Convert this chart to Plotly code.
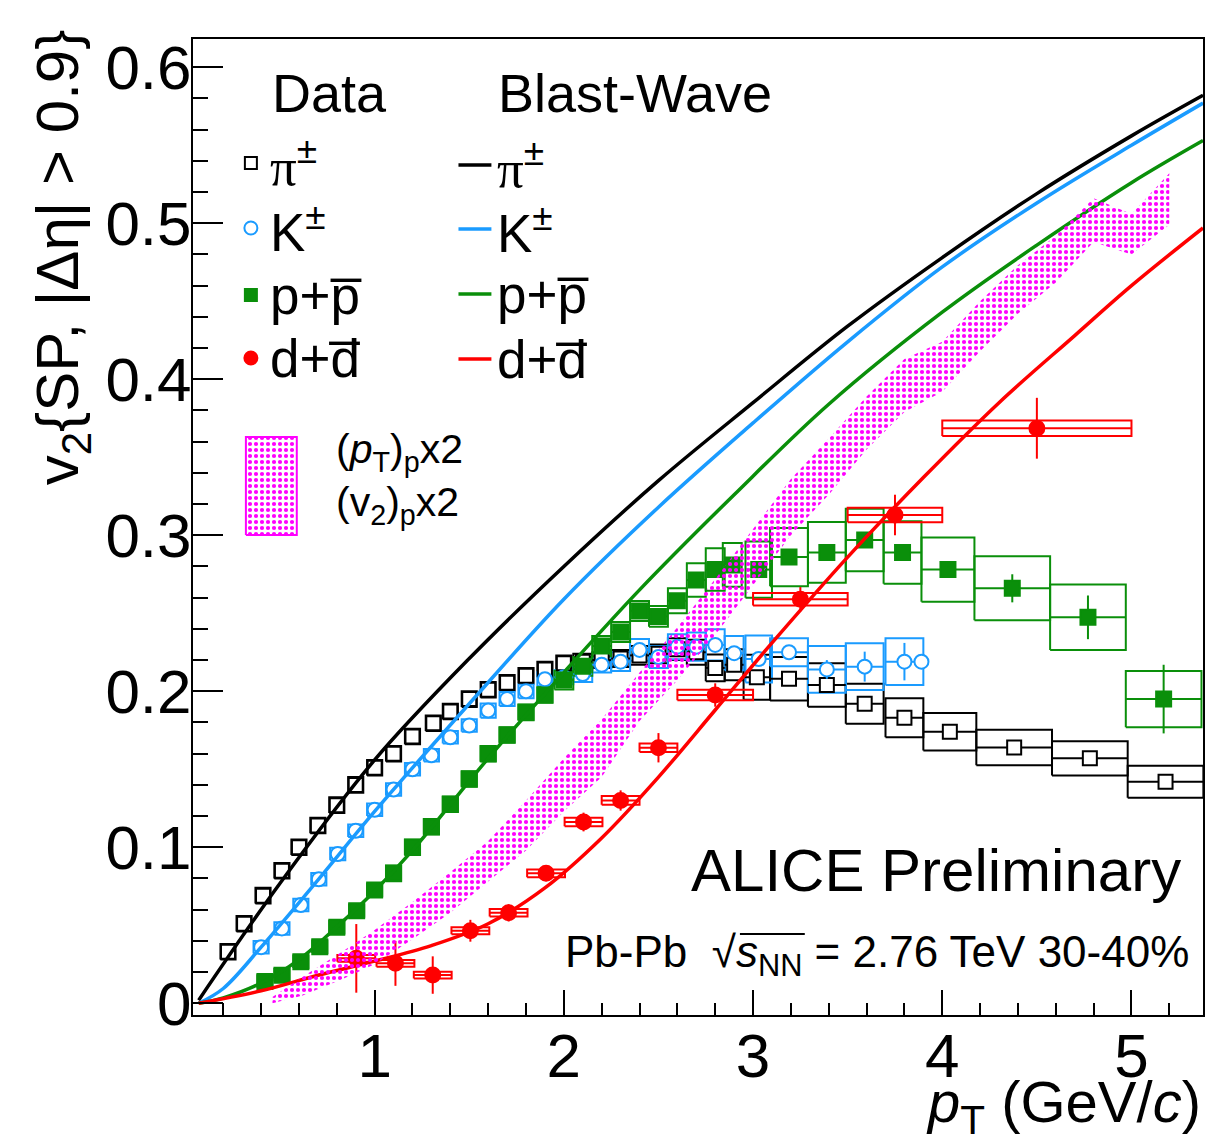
import plotly.graph_objects as go

FONT = "Liberation Sans, Arial, Helvetica, sans-serif"

# ---------------- charged pions ----------------
pi_pt = [0.225, 0.31, 0.41, 0.51, 0.60, 0.70, 0.80, 0.90, 1.00, 1.10, 1.20,
         1.31, 1.40, 1.50, 1.60, 1.70, 1.80, 1.90, 2.00,
         2.10, 2.20, 2.30, 2.40, 2.50, 2.60, 2.70, 2.80, 2.90,
         3.02, 3.19, 3.39, 3.59, 3.80, 4.04, 4.38, 4.78, 5.18]
pi_v2 = [0.033, 0.051, 0.069, 0.085, 0.100, 0.114, 0.127, 0.140, 0.151, 0.160, 0.171,
         0.1795, 0.187, 0.195, 0.201, 0.2055, 0.210, 0.214, 0.218,
         0.219, 0.220, 0.221, 0.223, 0.224, 0.227, 0.225, 0.215, 0.217,
         0.209, 0.208, 0.204, 0.192, 0.183, 0.174, 0.164, 0.157, 0.142]
pi_stat = [0.0005, 0.0005, 0.0005, 0.0005, 0.0005, 0.0005, 0.0005, 0.0005, 0.0005, 0.0005, 0.0005,
           0.0005, 0.0005, 0.0005, 0.0005, 0.0005, 0.0005, 0.0005, 0.0005,
           0.0006, 0.0006, 0.0006, 0.0006, 0.0007, 0.0007, 0.0008, 0.0008, 0.0009,
           0.001, 0.001, 0.0015, 0.002, 0.002, 0.002, 0.002, 0.003, 0.004]
pi_sys = [0.005, 0.005, 0.005, 0.005, 0.005, 0.005, 0.005, 0.005, 0.005, 0.005, 0.005,
          0.005, 0.005, 0.005, 0.005, 0.005, 0.005, 0.005, 0.005,
          0.005, 0.005, 0.0055, 0.006, 0.006, 0.007, 0.008, 0.0085, 0.010,
          0.0144, 0.0139, 0.0139, 0.0128, 0.0125, 0.012, 0.0114, 0.011, 0.0103]
pi_bin = [0.04, 0.04, 0.04, 0.04, 0.04, 0.04, 0.04, 0.04, 0.04, 0.04, 0.04,
          0.04, 0.04, 0.04, 0.04, 0.04, 0.04, 0.04, 0.04,
          0.05, 0.05, 0.05, 0.05, 0.05, 0.05, 0.05, 0.05, 0.05,
          0.07, 0.10, 0.10, 0.10, 0.10, 0.14, 0.20, 0.20, 0.20]

# ---------------- charged kaons ----------------
k_pt = [0.40, 0.51, 0.61, 0.705, 0.805, 0.90, 1.00, 1.10, 1.20, 1.30, 1.40, 1.50,
        1.60, 1.70, 1.80, 1.90, 2.00,
        2.10, 2.20, 2.30, 2.40, 2.50, 2.60, 2.70, 2.80, 2.90,
        3.03, 3.19, 3.39, 3.59, 3.80, 3.89]
k_v2 = [0.036, 0.048, 0.063, 0.0795, 0.0957, 0.1106, 0.124, 0.137, 0.150, 0.159, 0.1705, 0.178,
        0.1876, 0.195, 0.200, 0.2077, 0.209,
        0.211, 0.217, 0.219, 0.2265, 0.222, 0.2286, 0.2286, 0.2297, 0.2244,
        0.2207, 0.225, 0.214, 0.2158, 0.219, 0.219]
k_stat = [0.0008, 0.0008, 0.0008, 0.0008, 0.0008, 0.0008, 0.0008, 0.0008, 0.0008, 0.0008, 0.0008, 0.0008,
          0.0008, 0.0008, 0.0008, 0.0008, 0.0008,
          0.0008, 0.0008, 0.0008, 0.0008, 0.0008, 0.0015, 0.0015, 0.0015, 0.0015,
          0.002, 0.004, 0.006, 0.0096, 0.012, 0.0]
k_sys = [0.004, 0.004, 0.004, 0.004, 0.004, 0.004, 0.004, 0.004, 0.004, 0.004, 0.004, 0.004,
         0.0045, 0.0045, 0.0045, 0.0045, 0.0045,
         0.005, 0.005, 0.006, 0.007, 0.007, 0.008, 0.009, 0.010, 0.011,
         0.015, 0.009, 0.015, 0.015, 0.015, 0.0]
k_bin = [0.04, 0.04, 0.04, 0.04, 0.04, 0.04, 0.04, 0.04, 0.04, 0.04, 0.04, 0.04,
         0.04, 0.04, 0.04, 0.04, 0.05,
         0.05, 0.05, 0.05, 0.05, 0.05, 0.05, 0.05, 0.05, 0.05,
         0.07, 0.10, 0.10, 0.10, 0.10, 0.0]

# ---------------- protons ----------------
p_pt = [0.42, 0.51, 0.61, 0.71, 0.80, 0.905, 1.00,
        1.10, 1.20, 1.30, 1.40, 1.50, 1.60, 1.70, 1.80, 1.90,
        2.00, 2.10, 2.20, 2.30, 2.40, 2.50, 2.60, 2.70, 2.80, 2.89,
        3.03, 3.19, 3.39, 3.59, 3.79, 4.03, 4.37, 4.77, 5.17]
p_v2 = [0.0139, 0.018, 0.0267, 0.0363, 0.0487, 0.0594, 0.0726,
        0.0833, 0.100, 0.1132, 0.1276, 0.1438, 0.160, 0.172, 0.1865, 0.1976,
        0.2072, 0.216, 0.229, 0.238, 0.2515, 0.248, 0.258, 0.2713, 0.278, 0.281,
        0.278, 0.286, 0.289, 0.297, 0.289, 0.278, 0.266, 0.2474, 0.195]
p_stat = [0.001, 0.001, 0.001, 0.001, 0.001, 0.001, 0.001,
          0.001, 0.001, 0.001, 0.001, 0.001, 0.001, 0.001, 0.001, 0.001,
          0.0012, 0.0012, 0.0012, 0.0012, 0.0013, 0.0013, 0.0014, 0.0014, 0.0015, 0.0015,
          0.0015, 0.002, 0.003, 0.003, 0.004, 0.004, 0.009, 0.014, 0.022]
p_sys = [0.004, 0.004, 0.004, 0.004, 0.004, 0.004, 0.004,
         0.005, 0.005, 0.005, 0.005, 0.005, 0.005, 0.005, 0.005, 0.005,
         0.006, 0.006, 0.0065, 0.0064, 0.0064, 0.0066, 0.008, 0.0107, 0.0136, 0.014,
         0.018, 0.0187, 0.0195, 0.020, 0.020, 0.0206, 0.0205, 0.021, 0.018]
p_bin = [0.04, 0.04, 0.04, 0.04, 0.04, 0.04, 0.04,
         0.04, 0.04, 0.04, 0.04, 0.04, 0.04, 0.04, 0.04, 0.04,
         0.05, 0.05, 0.05, 0.05, 0.05, 0.05, 0.05, 0.05, 0.05, 0.05,
         0.07, 0.10, 0.10, 0.10, 0.10, 0.14, 0.20, 0.20, 0.20]

# ---------------- deuterons ----------------
d_pt = [0.903, 1.11, 1.307, 1.506, 1.708, 1.906, 2.104, 2.30, 2.50, 2.80, 3.25, 3.75, 4.50]
d_v2 = [0.0288, 0.0256, 0.0181, 0.0465, 0.058, 0.0833, 0.1162, 0.130, 0.1638, 0.1976, 0.259, 0.313, 0.3686]
d_stat = [0.022, 0.0144, 0.012, 0.007, 0.0055, 0.005, 0.006, 0.0065, 0.0094, 0.0075, 0.0078, 0.013, 0.0195]
d_sys = [0.0022, 0.0022, 0.0022, 0.0023, 0.0024, 0.0025, 0.0027, 0.0028, 0.0028, 0.0034, 0.004, 0.0046, 0.005]
d_bin = [0.10, 0.10, 0.10, 0.10, 0.10, 0.10, 0.10, 0.10, 0.10, 0.20, 0.25, 0.25, 0.50]

# ---------------- Blast-Wave predictions ----------------
bw_pi_pt = [0.07, 0.5, 1.0, 1.5, 2.0, 2.5, 3.0, 3.5, 4.0, 4.5, 5.0, 5.378]
bw_pi_v2 = [0.002, 0.077, 0.156, 0.221, 0.280, 0.335, 0.385, 0.434, 0.478, 0.519, 0.556, 0.582]
bw_k_pt = [0.07, 0.2, 0.4, 0.7, 1.0, 1.5, 2.0, 2.5, 3.0, 3.5, 4.0, 4.5, 5.0, 5.378]
bw_k_v2 = [0.0, 0.0095, 0.036, 0.079, 0.123, 0.192, 0.259, 0.318, 0.372, 0.424, 0.472, 0.513, 0.550, 0.577]
bw_p_pt = [0.07, 0.2, 0.4, 0.6, 0.8, 1.0, 1.2, 1.6, 2.0, 2.4, 2.9, 3.4, 4.0, 4.5, 5.0, 5.378]
bw_p_v2 = [0.0, 0.0035, 0.013, 0.028, 0.049, 0.072, 0.098, 0.157, 0.212, 0.265, 0.326, 0.384, 0.443, 0.486, 0.526, 0.553]
bw_d_pt = [0.07, 0.4, 0.7, 1.0, 1.3, 1.6, 1.9, 2.2, 2.5, 2.8, 3.1, 3.5, 3.9, 4.3, 4.7, 5.0, 5.378]
bw_d_v2 = [0.0, 0.008, 0.018, 0.027, 0.037, 0.051, 0.074, 0.106, 0.145, 0.188, 0.231, 0.286, 0.337, 0.385, 0.428, 0.460, 0.497]

# ---------------- scaled proton band: (pT)p x2, (v2)p x2 ----------------
band_pt = [0.46, 0.62, 0.84, 1.00, 1.20, 1.40, 1.60, 1.80, 2.00, 2.20, 2.40, 2.60, 2.80,
           3.00, 3.20, 3.40, 3.60, 3.80, 4.00, 4.20, 4.40, 4.60, 4.80, 5.00, 5.20]
band_lo = [0.000, 0.005, 0.016, 0.025, 0.041, 0.058, 0.078, 0.098, 0.123, 0.145, 0.181, 0.207, 0.236,
           0.268, 0.300, 0.326, 0.355, 0.379, 0.392, 0.418, 0.442, 0.462, 0.488, 0.480, 0.499]
band_hi = [0.004, 0.017, 0.034, 0.047, 0.065, 0.084, 0.104, 0.130, 0.157, 0.182, 0.212, 0.241, 0.272,
           0.304, 0.336, 0.362, 0.389, 0.413, 0.424, 0.450, 0.473, 0.492, 0.516, 0.506, 0.532]

BLACK = "#000000"
BLUE = "#1a9bff"
GREEN = "#0a8f0a"
RED = "#ff0000"
MAGENTA = "#ff00ff"

BAND_PATTERN = dict(shape=".", fgcolor=MAGENTA, bgcolor="rgba(255,255,255,0)",
                    fgopacity=1, size=6, solidity=0.38)

species = [
    dict(pt=pi_pt, v2=pi_v2, stat=pi_stat, sys=pi_sys, hw=pi_bin, color=BLACK, symbol="square", fill="white", size=14),
    dict(pt=k_pt, v2=k_v2, stat=k_stat, sys=k_sys, hw=k_bin, color=BLUE, symbol="circle", fill="white", size=14),
    dict(pt=p_pt, v2=p_v2, stat=p_stat, sys=p_sys, hw=p_bin, color=GREEN, symbol="square", fill=GREEN, size=15),
    dict(pt=d_pt, v2=d_v2, stat=d_stat, sys=d_sys, hw=d_bin, color=RED, symbol="circle", fill=RED, size=15),
]


def sys_boxes(pt, v2, hw, sy):
    """Open rectangles for the systematic uncertainties."""
    bx, by = [], []
    for x, y, w, s in zip(pt, v2, hw, sy):
        if w <= 0 or s <= 0:
            continue
        bx += [x - w, x + w, x + w, x - w, x - w, None]
        by += [y - s, y - s, y + s, y + s, y - s, None]
    return bx, by


fig = go.Figure()

# systematic boxes
for s in species:
    bx, by = sys_boxes(s["pt"], s["v2"], s["hw"], s["sys"])
    fig.add_trace(go.Scatter(x=bx, y=by, mode="lines",
                             line=dict(color=s["color"], width=2),
                             hoverinfo="skip"))

# data points with bin-width and statistical bars
for s in species:
    fig.add_trace(go.Scatter(
        x=s["pt"], y=s["v2"], mode="markers",
        marker=dict(symbol=s["symbol"], size=s["size"], color=s["fill"],
                    line=dict(color=s["color"], width=2)),
        error_x=dict(type="data", array=s["hw"], symmetric=True, width=0,
                     thickness=2, color=s["color"]),
        error_y=dict(type="data", array=s["stat"], symmetric=True, width=0,
                     thickness=2, color=s["color"]),
    ))

# Blast-Wave curves
for xs, ys, col in [(bw_pi_pt, bw_pi_v2, BLACK), (bw_k_pt, bw_k_v2, BLUE),
                    (bw_p_pt, bw_p_v2, GREEN), (bw_d_pt, bw_d_v2, RED)]:
    fig.add_trace(go.Scatter(x=xs, y=ys, mode="lines",
                             line=dict(color=col, width=3.5, shape="spline", smoothing=1.0),
                             hoverinfo="skip"))

# scaled proton band
fig.add_trace(go.Scatter(
    x=band_pt + band_pt[::-1], y=band_hi + band_lo[::-1],
    mode="lines", fill="toself", line=dict(width=0, color="rgba(0,0,0,0)"),
    fillcolor="rgba(255,255,255,0)", fillpattern=BAND_PATTERN,
    hoverinfo="skip"))

# ---------------- legend keys (overlay axes in plot-area fractions) ----------------
def px2fx(px):
    return (px - 193) / 1012.0


def py2fy(py):
    return (1015 - py) / 976.0


data_rows = [163, 228, 295, 358]
bw_rows = [165, 229, 294, 359]
data_keys = [(BLACK, "square", "white", 12), (BLUE, "circle", "white", 13),
             (GREEN, "square", GREEN, 12), (RED, "circle", RED, 13)]
for (col, sym, fill, sz), row in zip(data_keys, data_rows):
    fig.add_trace(go.Scatter(x=[px2fx(251)], y=[py2fy(row)], mode="markers",
                             xaxis="x2", yaxis="y2",
                             marker=dict(symbol=sym, size=sz, color=fill,
                                         line=dict(color=col, width=2)),
                             hoverinfo="skip"))
for col, row in zip([BLACK, BLUE, GREEN, RED], bw_rows):
    fig.add_trace(go.Scatter(x=[px2fx(459), px2fx(492)], y=[py2fy(row)] * 2, mode="lines",
                             xaxis="x2", yaxis="y2",
                             line=dict(color=col, width=3.5), hoverinfo="skip"))

# band key
kx0, kx1, ky0, ky1 = px2fx(246), px2fx(297), py2fy(535), py2fy(437)
fig.add_trace(go.Scatter(
    x=[kx0, kx1, kx1, kx0, kx0], y=[ky0, ky0, ky1, ky1, ky0],
    mode="lines", fill="toself", xaxis="x2", yaxis="y2",
    line=dict(color=MAGENTA, width=2),
    fillcolor="rgba(255,255,255,0)", fillpattern=BAND_PATTERN,
    hoverinfo="skip"))

PI = "<span style='font-family:Liberation Serif'>π</span>"
labels_data = [PI + "<sup>±</sup>", "K<sup>±</sup>", "p+p\u0305", "d+d\u0305"]

ann = []


def text(x, y, s, size, xanchor="left", yanchor="middle", **kw):
    ann.append(dict(x=x, y=y, xref="paper", yref="paper", text=s, showarrow=False,
                    xanchor=xanchor, yanchor=yanchor,
                    font=dict(family=FONT, size=size, color="black"), **kw))


text(px2fx(270), py2fy(93), "Data", 54)
text(px2fx(497), py2fy(93), "Blast-Wave", 54)
for lab, row in zip(labels_data, data_rows):
    text(px2fx(268), py2fy(row), lab, 53)
for lab, row in zip(labels_data, bw_rows):
    text(px2fx(496), py2fy(row), lab, 53)

text(px2fx(334), py2fy(452), "(<i>p</i><sub>T</sub>)<sub>p</sub>x2", 41)
text(px2fx(334), py2fy(505), "(v<sub>2</sub>)<sub>p</sub>x2", 41)

text(px2fx(1185), py2fy(870), "ALICE Preliminary", 60, xanchor="right")
text(px2fx(1193), py2fy(955), "Pb-Pb  √<i>s</i><sub>NN</sub> = 2.76 TeV 30-40%", 44, xanchor="right")

# axis titles
text(px2fx(62), py2fy(257), "v<sub>2</sub>{SP, |Δη| > 0.9}", 60,
     xanchor="center", yanchor="middle", textangle=-90)
text(1.0, py2fy(1106), "<i>p</i><sub>T</sub> (GeV/<i>c</i>)", 58, xanchor="right")

# bar of the square-root sign over s_NN
shapes = [dict(type="line", xref="paper", yref="paper",
               x0=px2fx(741), x1=px2fx(806), y0=py2fy(934), y1=py2fy(934),
               line=dict(color="black", width=2))]

fig.update_layout(
    width=1209, height=1143,
    margin=dict(l=193, r=4, t=39, b=128, pad=0),
    paper_bgcolor="white", plot_bgcolor="white",
    showlegend=False,
    annotations=ann,
    shapes=shapes,
    xaxis=dict(range=[0.04, 5.378], showgrid=False, zeroline=False,
               showline=True, linecolor="black", linewidth=2, mirror=True,
               ticks="inside", ticklen=25, tickwidth=2, tickcolor="black",
               tick0=0, dtick=1, ticklabelstandoff=-14,
               tickfont=dict(family=FONT, size=62, color="black"),
               minor=dict(ticks="inside", ticklen=12, tickwidth=2, tickcolor="black",
                          tick0=0, dtick=0.2, showgrid=False)),
    yaxis=dict(range=[-0.0075, 0.6181], showgrid=False, zeroline=False,
               showline=True, linecolor="black", linewidth=2, mirror=True,
               ticks="inside", ticklen=30, tickwidth=2, tickcolor="black",
               tick0=0, dtick=0.1, ticklabelstandoff=-13,
               tickfont=dict(family=FONT, size=62, color="black"),
               minor=dict(ticks="inside", ticklen=15, tickwidth=2, tickcolor="black",
                          tick0=0, dtick=0.02, showgrid=False)),
    xaxis2=dict(range=[0, 1], overlaying="x", visible=False, anchor="y2"),
    yaxis2=dict(range=[0, 1], overlaying="y", visible=False, anchor="x2"),
)

fig.write_html("out.html")
